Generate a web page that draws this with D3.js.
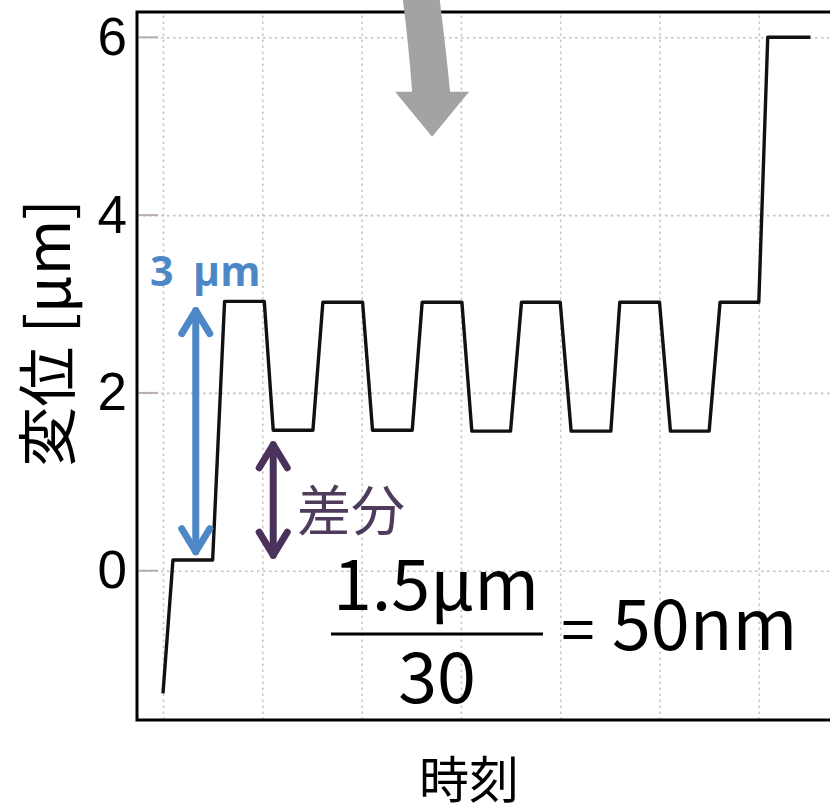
<!DOCTYPE html>
<html>
<head>
<meta charset="utf-8">
<script src="https://cdn.jsdelivr.net/npm/d3@7"></script>
<style>
  body { margin: 0; background: #fff; }
  svg { display: block; }
</style>
</head>
<body>
<div id="chart"></div>
<script>
// data (time in grid units, displacement in um)
var times = [0, 0.10, 0.50, 0.62, 1.02, 1.11, 1.51, 1.61, 2.01, 2.11, 2.51, 2.61, 3.01, 3.11, 3.50, 3.61, 4.00, 4.11, 4.51, 4.60, 5.00, 5.11, 5.50, 5.61, 6.00, 6.09, 6.52];
var displacement = [-1.38, 0.12, 0.12, 3.03, 3.03, 1.58, 1.58, 3.02, 3.02, 1.58, 1.58, 3.02, 3.02, 1.57, 1.57, 3.02, 3.02, 1.57, 1.57, 3.02, 3.02, 1.57, 1.57, 3.02, 3.02, 6.0, 6.0];
var yTicks = [0, 2, 4, 6];
var xTicks = [0, 1, 2, 3, 4, 5, 6, 7];

var width = 830, height = 806;
var frameL = 137, frameT = 12, frameB = 720, frameR = 880;

var svg = d3.select("#chart").append("svg")
  .attr("width", width)
  .attr("height", height);

// scales
var x = d3.scaleLinear().domain([0, 6]).range([163, 758.8]);
var y = d3.scaleLinear().domain([0, 6]).range([570.7, 37.3]);

// grid lines
var gridY = svg.append("g")
  .attr("transform", "translate(" + frameL + ",0)")
  .call(d3.axisLeft(y).tickValues(yTicks).tickSize(-(frameR - frameL)).tickFormat(""));
gridY.select(".domain").remove();
gridY.selectAll("line")
  .attr("stroke", "#c6c0c4")
  .attr("stroke-width", 1.6)
  .attr("stroke-dasharray", "2.5,3.5");

var gridX = svg.append("g")
  .attr("transform", "translate(0," + frameB + ")")
  .call(d3.axisBottom(x).tickValues(xTicks).tickSize(-(frameB - frameT)).tickFormat(""));
gridX.select(".domain").remove();
gridX.selectAll("line")
  .attr("stroke", "#c8c8c8")
  .attr("stroke-width", 1.6)
  .attr("stroke-dasharray", "2.5,3.5");

// short tick marks inside the left edge
svg.append("g").selectAll("line")
  .data(yTicks)
  .enter()
  .append("line")
  .attr("x1", frameL + 2)
  .attr("x2", frameL + 21)
  .attr("y1", function(d) { return y(d); })
  .attr("y2", function(d) { return y(d); })
  .attr("stroke", "#b8aeb2")
  .attr("stroke-width", 2);

// y tick labels
var yAxis = svg.append("g")
  .attr("transform", "translate(127,0)")
  .call(d3.axisLeft(y).tickValues(yTicks).tickSize(0).tickPadding(0).tickFormat(d3.format("d")));
yAxis.select(".domain").remove();
yAxis.selectAll("text")
  .attr("font-family", "'Liberation Sans', Arial, sans-serif")
  .attr("font-size", 53)
  .attr("fill", "#000");

// frame
svg.append("path")
  .attr("d", "M" + frameR + "," + frameT + "H" + frameL + "V" + frameB + "H" + frameR)
  .attr("fill", "none")
  .attr("stroke", "#000")
  .attr("stroke-width", 3);

// the measured trace
var line = d3.line()
  .x(function(d) { return x(d[0]); })
  .y(function(d) { return y(d[1]); });

svg.append("path")
  .datum(d3.zip(times, displacement))
  .attr("d", line)
  .attr("fill", "none")
  .attr("stroke", "#111")
  .attr("stroke-width", 3.4)
  .attr("stroke-linejoin", "round");

// double arrows
function doubleArrow(xv, y0, y1, color) {
  var g = svg.append("g")
    .attr("stroke", color)
    .attr("stroke-width", 7)
    .attr("stroke-linecap", "round")
    .attr("stroke-linejoin", "round")
    .attr("fill", "none");
  var cx = x(xv), ty = y(y0), by = y(y1);
  g.append("line").attr("x1", cx).attr("x2", cx).attr("y1", ty + 3).attr("y2", by - 3);
  g.append("polyline").attr("points", [[cx - 14, ty + 26], [cx, ty + 3], [cx + 14, ty + 26]].join(" "));
  g.append("polyline").attr("points", [[cx - 14, by - 26], [cx, by - 3], [cx + 14, by - 26]].join(" "));
}
doubleArrow(0.33, 2.96, 0.18, "#4d87c6");
doubleArrow(1.11, 1.45, 0.14, "#4b325a");

svg.append("text")
  .attr("x", 150)
  .attr("y", 286)
  .attr("font-family", "'Open Sans', sans-serif")
  .attr("font-weight", "bold")
  .attr("font-size", 41)
  .attr("word-spacing", 9)
  .attr("fill", "#4d87c6")
  .text("3 μm");

svg.append("text")
  .attr("x", 297)
  .attr("y", 507)
  .attr("dominant-baseline", "central")
  .attr("font-family", "'Noto Sans CJK JP', sans-serif")
  .attr("font-size", 54)
  .attr("fill", "#4f3b5c")
  .text("差分");

// formula
var f = svg.append("g")
  .attr("font-family", "'Noto Sans CJK JP', sans-serif")
  .attr("fill", "#000");
f.append("text").attr("x", 436).attr("y", 610).attr("text-anchor", "middle")
  .attr("font-size", 70).text("1.5μm");
f.append("line").attr("x1", 331).attr("x2", 543).attr("y1", 634).attr("y2", 634)
  .attr("stroke", "#000").attr("stroke-width", 3);
f.append("text").attr("x", 437).attr("y", 703).attr("text-anchor", "middle")
  .attr("font-size", 70).text("30");
f.append("text").attr("x", 578).attr("y", 652).attr("text-anchor", "middle")
  .attr("font-size", 60).text("=");
f.append("text").attr("x", 612).attr("y", 650)
  .attr("font-size", 70).text("50nm");

// grey curved arrow at the top
var tipX = x(2.71), tipY = y(4.88);
svg.append("path")
  .attr("transform", "translate(" + tipX + "," + tipY + ")")
  .attr("d", "M0,0L-37,-45L-20,-45Q-24,-100 -31,-150L6,-150Q13,-95 18,-45L37,-45Z")
  .attr("fill", "#a3a3a3");

// axis titles
svg.append("text")
  .attr("x", 469)
  .attr("y", 776)
  .attr("text-anchor", "middle")
  .attr("dominant-baseline", "central")
  .attr("font-family", "'Noto Sans CJK JP', sans-serif")
  .attr("font-size", 50)
  .text("時刻");

svg.append("text")
  .attr("transform", "translate(43,333) rotate(-90)")
  .attr("text-anchor", "middle")
  .attr("dominant-baseline", "central")
  .attr("font-family", "'Noto Sans CJK JP', sans-serif")
  .attr("font-size", 60)
  .text("変位 [μm]");
</script>
</body>
</html>
